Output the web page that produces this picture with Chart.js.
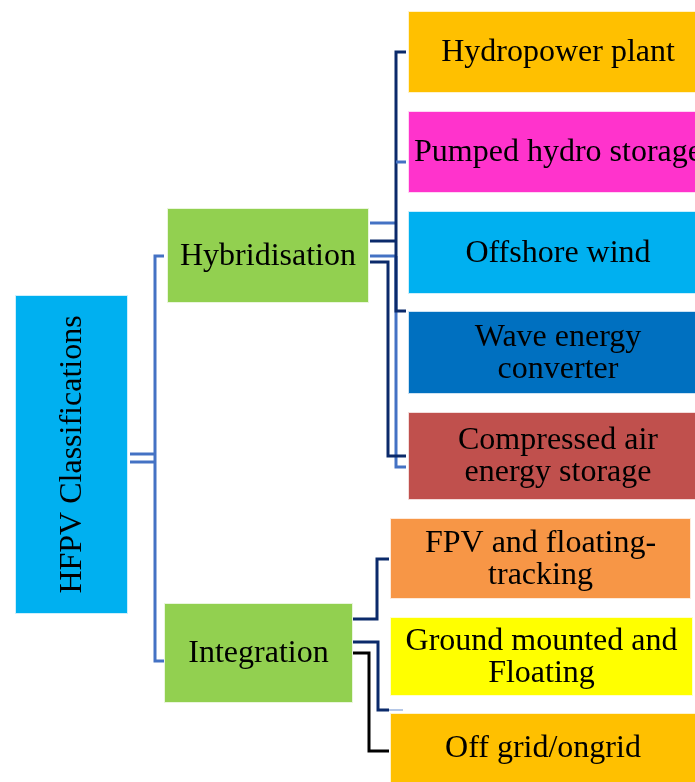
<!DOCTYPE html>
<html>
<head>
<meta charset="utf-8">
<script src="https://cdn.jsdelivr.net/npm/chart.js@4/dist/chart.umd.min.js"></script>
<style>
  html, body { margin: 0; padding: 0; background: #fff; }
  #wrap { width: 695px; height: 782px; }
</style>
</head>
<body>
<div id="wrap"><canvas id="tree" width="695" height="782"></canvas></div>
<script>
// ======== DADOS ========
const nodeLabels = [
  'HFPV Classifications',
  'Hybridisation',
  'Integration',
  'Hydropower plant',
  'Pumped hydro storage',
  'Offshore wind',
  'Wave energy\nconverter',
  'Compressed air\nenergy storage',
  'FPV and floating-\ntracking',
  'Ground mounted and\nFloating',
  'Off grid/ongrid'
];
const nodeParents = [-1, 0, 0, 1, 1, 1, 1, 1, 2, 2, 2];

// ======== LAYOUT (unidades da escala = px) ========
const boxX0 = [15, 167, 164, 408, 408, 408, 408, 408, 390, 390, 390];
const boxX1 = [128, 369, 353, 708, 708, 708, 708, 708, 691, 693, 696];
const boxY0 = [295, 208, 603, 11, 111, 211, 311, 412, 518, 617, 713];
const boxY1 = [614, 303, 703, 93, 193, 294, 394, 500, 599, 696, 800];
const boxColors = ['#00B0F0', '#92D050', '#92D050', '#FFC000', '#FF33CC', '#00B0F0',
  '#0070C0', '#C0504D', '#F79646', '#FFFF00', '#FFC000'];
const boxRotated = [true, false, false, false, false, false, false, false, false, false, false];

const LIGHT = '#4472C4';
const DARK = '#0B2A6B';
const connectors = [
  { c: LIGHT, w: 3, p: [[130, 454], [155, 454]] },
  { c: LIGHT, w: 3, p: [[130, 462], [155, 462]] },
  { c: LIGHT, w: 3, p: [[164, 256], [155, 256], [155, 661], [164, 661]] },
  { c: LIGHT, w: 3, p: [[370, 223], [396, 223]] },
  { c: DARK, w: 3, p: [[370, 241], [396, 241]] },
  { c: LIGHT, w: 3, p: [[370, 256], [396, 256]] },
  { c: LIGHT, w: 3, p: [[396, 256], [396, 467], [406, 467]] },
  { c: DARK, w: 3, p: [[370, 262], [388, 262], [388, 456], [406, 456]] },
  { c: DARK, w: 3, p: [[406, 52], [396, 52], [396, 311], [406, 311]] },
  { c: LIGHT, w: 3, p: [[396, 162], [406, 162]] },
  { c: DARK, w: 3, p: [[353, 619], [377, 619], [377, 559], [389, 559]] },
  { c: DARK, w: 3, p: [[353, 642], [378, 642], [378, 710], [389, 710]] },
  { c: '#B4C7E7', w: 2, p: [[389, 710], [403, 710]] },
  { c: '#000000', w: 3, p: [[353, 653], [369, 653], [369, 751], [389, 751]] }
];

// ======== PLUGIN DE DESENHO ========
const treePlugin = {
  id: 'treePlugin',
  afterDatasetsDraw(chart) {
    const ctx = chart.ctx;
    const xs = chart.scales.x;
    const ys = chart.scales.y;
    const px = v => xs.getPixelForValue(v);
    const py = v => ys.getPixelForValue(v);

    ctx.save();
    // conectores
    ctx.lineJoin = 'miter';
    ctx.lineCap = 'butt';
    connectors.forEach(cn => {
      ctx.strokeStyle = cn.c;
      ctx.lineWidth = cn.w;
      ctx.beginPath();
      cn.p.forEach((pt, i) => {
        if (i === 0) ctx.moveTo(px(pt[0]), py(pt[1]));
        else ctx.lineTo(px(pt[0]), py(pt[1]));
      });
      ctx.stroke();
    });

    // caixas
    nodeLabels.forEach((label, i) => {
      const x0 = px(boxX0[i]), x1 = px(boxX1[i]);
      const y0 = py(boxY0[i]), y1 = py(boxY1[i]);
      ctx.fillStyle = boxColors[i];
      ctx.fillRect(x0, y0, x1 - x0, y1 - y0);
      ctx.strokeStyle = 'rgba(255,255,255,0.8)';
      ctx.lineWidth = 1;
      ctx.strokeRect(x0 + 0.5, y0 + 0.5, x1 - x0 - 1, y1 - y0 - 1);

      const cx = (x0 + x1) / 2;
      const cy = (y0 + Math.min(y1, chart.height)) / 2;
      const lines = label.split('\n');
      const lh = 32;
      ctx.fillStyle = '#000';
      ctx.font = '32px "Liberation Serif", "Times New Roman", serif';
      ctx.textAlign = 'center';
      ctx.textBaseline = 'middle';
      ctx.save();
      ctx.translate(cx, cy);
      if (boxRotated[i]) ctx.rotate(-Math.PI / 2);
      lines.forEach((ln, k) => {
        ctx.fillText(ln, 0, (k - (lines.length - 1) / 2) * lh + 1);
      });
      ctx.restore();
    });
    ctx.restore();
  }
};

new Chart(document.getElementById('tree'), {
  type: 'scatter',
  data: {
    datasets: [{
      label: 'nodes',
      data: nodeLabels.map((_, i) => ({ x: (boxX0[i] + boxX1[i]) / 2, y: (boxY0[i] + boxY1[i]) / 2, parent: nodeParents[i] })),
      pointRadius: 0,
      pointHoverRadius: 0
    }]
  },
  options: {
    responsive: false,
    animation: false,
    layout: { padding: 0 },
    plugins: { legend: { display: false }, tooltip: { enabled: false } },
    scales: {
      x: { type: 'linear', min: 0, max: 695, display: false },
      y: { type: 'linear', min: 0, max: 782, reverse: true, display: false }
    }
  },
  plugins: [treePlugin]
});
</script>
</body>
</html>
